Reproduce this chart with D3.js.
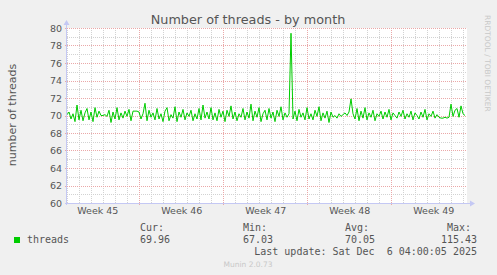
<!DOCTYPE html>
<html>
<head>
<meta charset="utf-8">
<script src="https://cdn.jsdelivr.net/npm/d3@7"></script>
<style>
  body { margin: 0; background: #f0f0f0; }
  svg { display: block; }
</style>
</head>
<body>
<div id="chart"></div>
<script>
// chart data (one value every 4 hours)
var seriesName = "threads";
var threads = [
  70.1, 70.4, 69.6, 70.2, 69.3, 71.2, 69.5, 70.6, 69.4, 70.3,
  70.8, 69.5, 70.4, 69.3, 70.9, 69.8, 70.5, 70.0, 70.0, 70.1,
  69.9, 70.6, 69.2, 70.4, 69.6, 70.9, 69.5, 70.3, 69.7, 70.5,
  69.9, 70.7, 69.4, 70.5, 70.5, 70.5, 70.4, 69.6, 70.2, 71.4,
  69.4, 70.6, 69.8, 70.3, 69.5, 70.8, 69.6, 70.2, 69.3, 70.5,
  70.9, 69.4, 70.1, 69.7, 71.0, 69.3, 70.4, 69.8, 70.7, 69.5,
  70.3, 69.9, 70.6, 69.4, 70.2, 69.6, 70.8, 69.5, 71.2, 69.7,
  70.4, 69.6, 70.9, 69.5, 70.3, 69.4, 70.7, 69.8, 70.5, 69.3,
  70.6, 69.9, 71.1, 69.6, 70.4, 69.4, 70.2, 69.8, 70.8, 69.5,
  70.4, 69.7, 71.3, 69.4, 70.5, 69.8, 70.9, 69.3, 70.2, 70.6,
  69.5, 70.8, 69.7, 70.4, 69.3, 70.6, 69.9, 71.0, 69.5, 70.3,
  69.8, 70.2, 79.4, 69.6, 70.5, 69.4, 70.7, 69.8, 70.3, 69.5,
  70.9, 69.6, 70.2, 69.5, 70.6, 69.9, 71.0, 69.4, 70.3, 69.7,
  70.5, 69.2, 70.4, 69.8, 70.0, 69.7, 70.2, 69.9, 70.1, 70.3,
  70.0, 70.4, 71.9, 70.2, 69.6, 70.8, 69.4, 70.5, 69.7, 70.9,
  69.5, 70.3, 69.8, 70.6, 69.4, 70.2, 69.9, 70.5, 69.6, 70.4,
  69.8, 70.7, 69.5, 70.3, 70.0, 69.7, 70.4, 69.9, 70.6, 69.6,
  70.2, 69.8, 70.5, 69.5, 70.3, 70.0, 69.6, 70.4, 69.8, 70.7,
  69.5, 70.2, 69.9, 70.5, 69.7, 70.1, 69.8, 69.7, 69.7, 69.8,
  69.7, 69.8, 71.3, 69.9, 70.6, 70.8, 69.8, 71.1, 70.2, 70.0
];
var yTicks = [60, 62, 64, 66, 68, 70, 72, 74, 76, 78, 80];
var statLabels = ["Cur:", "Min:", "Avg:", "Max:"];
var statValues = ["69.96", "67.03", "70.05", "115.43"];
var title = "Number of threads - by month";
var yLabel = "number of threads";
var lastUpdate = "Last update: Sat Dec  6 04:00:05 2025";

//time window of the graph
var tEnd = Date.UTC(2025, 11, 7, 7, 24);
var spanMs = 400 / 12 * 86400000;
var tStart = tEnd - spanMs;
var stepMs = 4 * 3600000;
var times = threads.map(function(d, i) { return new Date(tStart + i * stepMs); });

var margin = {top: 28, left: 67},
    width = 400,
    height = 175;

var svg = d3.select("#chart").append("svg")
    .attr("width", 497)
    .attr("height", 275)
    .style("font-family", "'DejaVu Sans', sans-serif");

var g = svg.append("g")
    .attr("transform", "translate(" + margin.left + "," + margin.top + ")");

var x = d3.scaleUtc().domain([new Date(tStart), new Date(tEnd)]).range([0, width]);
var y = d3.scaleLinear().domain([60, 80]).range([height, 0]);

function px(v) { return Math.round(v) + 0.5; }

g.append("rect").attr("width", width).attr("height", height).attr("fill", "#fff");

//minor grid
var days = d3.utcDay.range(new Date(tStart), new Date(tEnd));
var mondays = d3.utcMonday.range(new Date(tStart), new Date(tEnd));
g.append("g").selectAll("line").data(days).join("line")
    .attr("x1", function(d) { return px(x(d)); })
    .attr("x2", function(d) { return px(x(d)); })
    .attr("y1", 0).attr("y2", height)
    .attr("stroke", "#d2d2d2").attr("stroke-dasharray", "1,1");
g.append("g").selectAll("line").data(d3.range(61, 80, 2)).join("line")
    .attr("x1", 0).attr("x2", width)
    .attr("y1", function(d) { return px(y(d)); })
    .attr("y2", function(d) { return px(y(d)); })
    .attr("stroke", "#d2d2d2").attr("stroke-dasharray", "1,1");

//major grid
g.append("g").selectAll("line").data(mondays).join("line")
    .attr("x1", function(d) { return px(x(d)); })
    .attr("x2", function(d) { return px(x(d)); })
    .attr("y1", 0).attr("y2", height + 2)
    .attr("stroke", "#eaa8a8").attr("stroke-dasharray", "1,1");
g.append("g").selectAll("line").data(yTicks).join("line")
    .attr("x1", -2).attr("x2", width)
    .attr("y1", function(d) { return px(y(d)); })
    .attr("y2", function(d) { return px(y(d)); })
    .attr("stroke", "#eaa8a8").attr("stroke-dasharray", "1,1");

//the series
g.append("path")
    .datum(threads)
    .attr("fill", "none")
    .attr("stroke", "#00cc00")
    .attr("stroke-width", 1)
    .attr("d", d3.line()
        .x(function(d, i) { return x(times[i]); })
        .y(function(d) { return y(d); }));

//axes lines with arrows
var axisColor = "#c4c8f4";
g.append("line").attr("x1", -0.5).attr("x2", -0.5).attr("y1", height + 2).attr("y2", -5)
    .attr("stroke", axisColor);
g.append("path").attr("d", "M-3.5,-3 L-0.5,-8 L2.5,-3 Z").attr("fill", axisColor);
g.append("line").attr("x1", -2).attr("x2", width + 4).attr("y1", height + 0.5).attr("y2", height + 0.5)
    .attr("stroke", axisColor);
g.append("path").attr("d", "M" + (width + 3) + ",-2.5 L" + (width + 8) + ",0.5 L" + (width + 3) + ",3.5 Z")
    .attr("transform", "translate(0," + height + ")").attr("fill", axisColor);

//y labels
var yAxis = g.append("g")
    .call(d3.axisLeft(y).tickValues(yTicks).tickSize(0).tickPadding(5));
yAxis.select(".domain").remove();
yAxis.selectAll("text")
    .attr("font-size", "9.5px").attr("font-family", "'DejaVu Sans', sans-serif")
    .attr("fill", "#555");

//week labels, centred in each week
var weekMid = mondays.map(function(d) { return new Date(+d - 7 * 86400000 + 3.5 * 86400000); })
    .concat([new Date(+mondays[mondays.length - 1] + 3.5 * 86400000)]);
var xAxis = g.append("g")
    .attr("transform", "translate(0," + height + ")")
    .call(d3.axisBottom(x).tickValues(weekMid).tickSize(0).tickPadding(4)
        .tickFormat(d3.utcFormat("Week %V")));
xAxis.select(".domain").remove();
xAxis.selectAll("text")
    .attr("font-size", "9.5px").attr("font-family", "'DejaVu Sans', sans-serif")
    .attr("fill", "#555");

//title and axis title
svg.append("text").attr("x", 248).attr("y", 24).attr("text-anchor", "middle")
    .attr("font-size", "12.8px").attr("fill", "#555").text(title);
svg.append("text").attr("transform", "translate(15.5,115) rotate(-90)")
    .attr("text-anchor", "middle").attr("font-size", "11px").attr("fill", "#555").text(yLabel);
svg.append("text").attr("transform", "translate(485,15) rotate(90)")
    .attr("font-size", "7.5px").attr("fill", "#c8c8c8").text("RRDTOOL / TOBI OETIKER");

//legend
var mono = "'DejaVu Sans Mono', monospace";
svg.append("rect").attr("x", 14).attr("y", 237).attr("width", 6).attr("height", 6).attr("fill", "#00cc00");
svg.append("text").attr("x", 27).attr("y", 243).attr("font-family", mono).attr("font-size", "10px")
    .attr("fill", "#555").text(seriesName);
var statX = [140, 243, 345, 447];
svg.append("g").selectAll("text").data(statLabels).join("text")
    .attr("x", function(d, i) { return statX[i]; }).attr("y", 231)
    .attr("font-family", mono).attr("font-size", "10px").attr("fill", "#555")
    .text(function(d) { return d; });
svg.append("g").selectAll("text").data(statValues).join("text")
    .attr("x", function(d, i) { return statX[i] + 30; }).attr("y", 243)
    .attr("text-anchor", "end")
    .attr("font-family", mono).attr("font-size", "10px").attr("fill", "#555")
    .text(function(d) { return d; });
svg.append("text").attr("x", 477).attr("y", 255).attr("text-anchor", "end")
    .style("white-space", "pre")
    .attr("font-family", mono).attr("font-size", "10px").attr("fill", "#555").text(lastUpdate);
svg.append("text").attr("x", 248).attr("y", 267).attr("text-anchor", "middle")
    .attr("font-size", "7.5px").attr("fill", "#c8c8c8").text("Munin 2.0.73");
</script>
</body>
</html>
